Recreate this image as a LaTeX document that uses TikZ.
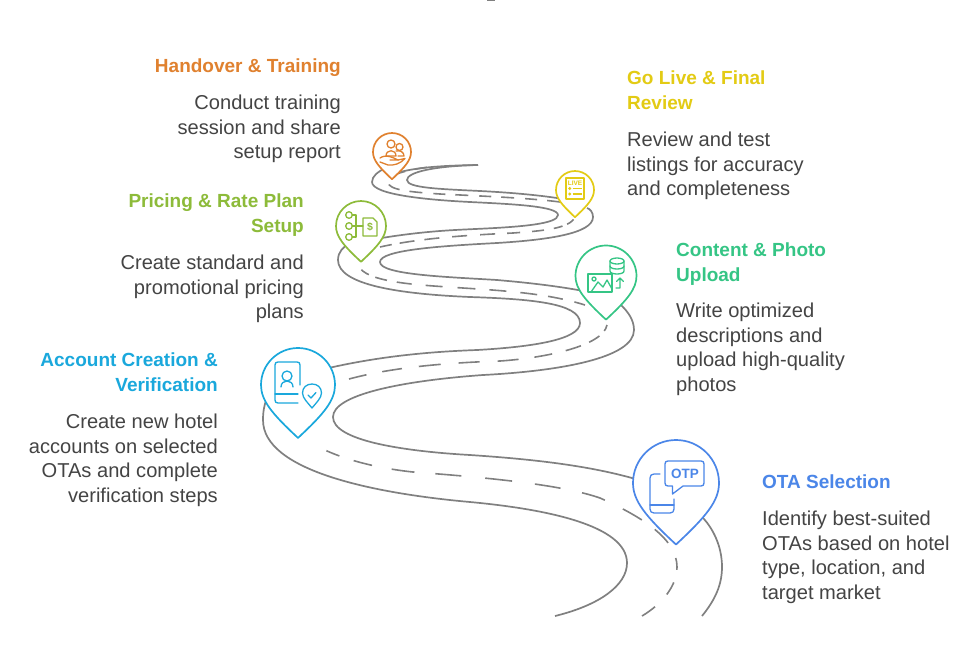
\documentclass[tikz,border=0pt]{standalone}
\usepackage{fontspec}
\setmainfont{Liberation Sans}
\definecolor{cOrange}{HTML}{E0812F}
\definecolor{cYellow}{HTML}{E3CB14}
\definecolor{cLime}{HTML}{8DBB3A}
\definecolor{cGreen}{HTML}{35C585}
\definecolor{cCyan}{HTML}{1AA8DC}
\definecolor{cBlue}{HTML}{4B86E8}
\definecolor{cRoad}{HTML}{808080}
\definecolor{cText}{HTML}{444444}
\newcommand\pinmark[4]{%
  \begin{scope}[shift={(#2,#3)},scale=#4]
    \draw[pinline,draw=#1,fill=white] (-1,0) .. controls (-1,-0.552) and (-0.552,-1) .. (0,-1)
      .. controls (0.552,-1) and (1,-0.552) .. (1,0)
      .. controls (1,0.42) and (0.7,0.78) .. (0,1.43)
      .. controls (-0.7,0.78) and (-1,0.42) .. (-1,0) -- cycle;
  \end{scope}}
\tikzset{
  pinline/.style={line width=1.7pt,line join=round},
  roadedge/.style={draw=cRoad,line width=1.7pt},
  roaddash/.style={draw=cRoad,line width=1.6pt},
  icon/.style={line width=1.3pt,line cap=round,line join=round},
  headR/.style={anchor=north east,align=right,inner sep=0pt,font=\fontsize{19}{24.5}\selectfont\bfseries},
  headL/.style={anchor=north west,align=left,inner sep=0pt,font=\fontsize{19}{24.5}\selectfont\bfseries},
  bodyR/.style={anchor=north east,align=right,inner sep=0pt,text=cText,font=\fontsize{20.1}{24.5}\selectfont},
  bodyL/.style={anchor=north west,align=left,inner sep=0pt,text=cText,font=\fontsize{20.1}{24.5}\selectfont},
}
\begin{document}
\begin{tikzpicture}[x=1pt,y=-1pt]
\useasboundingbox (0,0) rectangle (980,665);
\fill[white] (0,0) rectangle (980,665);
\draw[cRoad,line width=2pt] (487,0.4) -- (495,0.4);
% road edges
\draw[roadedge] (555,616) .. controls (600,605) and (627,585) .. (627,563)
  .. controls (627,525) and (545,509) .. (470,502)
  .. controls (370,493) and (263,470) .. (263,420)
  .. controls (263,412) and (264,405) .. (268,395);
\draw[roadedge] (320,370) .. controls (370,358) and (420,352) .. (477,350)
  .. controls (530,347) and (580,340) .. (580,323)
  .. controls (580,303) and (530,299) .. (470,297)
  .. controls (400,294) and (338,285) .. (338,260)
  .. controls (338,252) and (343,247) .. (350,243);
\draw[roadedge] (370,240) .. controls (420,231) and (455,230) .. (475,229)
  .. controls (520,227) and (558,224) .. (558,215)
  .. controls (558,206) and (510,204) .. (470,202)
  .. controls (430,200) and (372,195) .. (372,182)
  .. controls (372,176) and (378,172) .. (385,168);
\draw[roadedge] (400,172) .. controls (420,167) and (445,165.5) .. (478,165);
\draw[roadedge] (702,616) .. controls (715,600) and (722,585) .. (722,567)
  .. controls (722,545) and (712,528) .. (704,519) -- (690,505);
\draw[roadedge] (650,484) -- (632,478) .. controls (585,465) and (530,459) .. (470,455)
  .. controls (400,451) and (333,440) .. (333,417)
  .. controls (333,395) and (400,381) .. (483,375)
  .. controls (560,371) and (634,358) .. (634,330)
  .. controls (634,320) and (628,312) .. (622,306) -- (610,298);
\draw[roadedge] (590,292) -- (578,290) .. controls (550,285) and (520,282) .. (497,280)
  .. controls (450,277) and (380,275) .. (380,262)
  .. controls (380,250) and (440,246) .. (497,243)
  .. controls (545,240) and (593,234) .. (593,217)
  .. controls (593,212) and (590,209) .. (587,208);
\draw[roadedge] (570,202) -- (557,198) .. controls (530,194) and (500,192) .. (480,191)
  .. controls (440,189) and (407,188) .. (407,180)
  .. controls (407,172) and (435,166) .. (478,165);
% centre line
\draw[roaddash,dash pattern=on 16pt off 17pt on 14pt off 13pt on 12pt off 17pt on 19pt off 16pt on 22pt off 20pt on 24pt off 22pt on 26pt off 23pt on 27pt off 24pt on 26pt off 21pt on 23pt off 20pt on 19pt off 15pt on 14pt off 200pt] (642,616) .. controls (662,604) and (677,586) .. (677,567)
  .. controls (677,540) and (645,518) .. (600,498)
  .. controls (560,484) and (480,477) .. (413,472)
  .. controls (375,468) and (335,458) .. (308,441);
\draw[roaddash,dash pattern=on 18pt off 16pt on 20pt off 17pt on 22pt off 18pt on 21pt off 18pt on 21pt off 16pt on 18pt off 14pt on 16pt off 9pt on 12pt off 7pt on 8pt off 100pt] (349,379) .. controls (390,368) and (440,363) .. (500,361)
  .. controls (545,358) and (603,346) .. (607,325);
\draw[roaddash,dash pattern=on 11pt off 12pt on 15pt off 11pt on 17pt off 14pt on 17pt off 14pt on 18pt off 15pt on 17pt off 14pt on 15pt off 10pt on 12pt off 7pt on 9pt off 100pt] (585,305) .. controls (550,294) and (510,291) .. (463,288)
  .. controls (420,285) and (365,283) .. (358,265);
\draw[roaddash,dash pattern=on 12pt off 8pt on 15pt off 10pt on 15pt off 13pt on 15pt off 13pt on 15pt off 12pt on 13pt off 12pt on 12pt off 10pt on 9pt off 5pt on 8pt off 100pt] (380,247) .. controls (420,238) and (470,235) .. (513,233)
  .. controls (540,231) and (570,229) .. (575,217);
\draw[roaddash,dash pattern=on 13pt off 10pt on 12pt off 11pt] (560,202) .. controls (530,198) and (480,196) .. (440,194)
  .. controls (410,192) and (388,190) .. (388,182)
  .. controls (388,175) and (405,170) .. (430,167);
% pins
\pinmark{cOrange}{392}{152}{19}
\pinmark{cYellow}{575}{190}{19}
\pinmark{cLime}{361}{226}{25}
\pinmark{cGreen}{606}{276}{30.5}
\pinmark{cCyan}{298}{385}{37}
\pinmark{cBlue}{676}{483}{43}
% orange icon
\begin{scope}[icon,draw=cOrange]
\draw (391,144) circle (4);
\draw (399.5,147) circle (3.5);
\draw (386,156) .. controls (386,149) and (396,149) .. (396,156) -- (386,156);
\draw (396,151) .. controls (400,150) and (404,152) .. (404,156) -- (398,156);
\draw (380,158) .. controls (386,154) and (392,157) .. (398,160) -- (390,160);
\draw (398,160) -- (405,158.5) .. controls (400,164) and (394,165.5) .. (388,165) -- (380,162);
\end{scope}
% yellow icon
\begin{scope}[draw=cYellow]
\draw[line width=1.6pt,line join=round] (566,178) rectangle (584,199);
\node[inner sep=0pt,text=cYellow,font=\fontsize{6.5}{7}\selectfont\bfseries] (liveTag) at (575,183.5) {LIVE};
\draw[line width=1.5pt] (572.5,188.5) -- (582,188.5) (572.5,194) -- (582,194);
\fill[cYellow] (569.8,188.5) circle (1.6) (569.8,194) circle (1.6);
\end{scope}
% lime icon
\begin{scope}[icon,draw=cLime]
\draw (349,215) circle (3.3) (349,226) circle (3.3) (349,237) circle (3.3);
\draw (352.3,215) -- (356,215) -- (356,237) -- (352.3,237) (352.3,226) -- (363,226);
\draw (363,220) -- (363,236) -- (377,236) -- (377,222) -- (373,218) -- (363,218) -- cycle;
\node[inner sep=0pt,text=cLime,font=\fontsize{10.5}{11}\selectfont\bfseries] (dollarTag) at (370,227) {\$};
\end{scope}
% green icon
\begin{scope}[icon,draw=cGreen]
\draw (617,261) ellipse (7 and 3);
\draw (610,261) -- (610,271) .. controls (610,275) and (624,275) .. (624,271) -- (624,261);
\draw (610,266) .. controls (610,270) and (624,270) .. (624,266);
\draw (588,274) rectangle (612,292);
\draw (591,292) -- (598,282) -- (603,287) -- (607,280) -- (612,289);
\draw (594,279) circle (2);
\draw (616,288) -- (620,288) -- (620,278) (616.5,281.5) -- (620,278) -- (623.5,281.5);
\end{scope}
% cyan icon
\begin{scope}[icon,draw=cCyan]
\draw (300,385) -- (300,365) .. controls (300,363) and (299,362) .. (297,362) -- (278,362) .. controls (276,362) and (275,363) .. (275,365) -- (275,400) .. controls (275,402) and (276,403) .. (278,403) -- (298,403);
\draw (275,394) -- (298,394);
\draw (287,376) circle (5);
\draw (281,387) .. controls (281,379) and (293,379) .. (293,387);
\draw (302.5,393) .. controls (302.5,387.5) and (306.5,384) .. (312,384) .. controls (317.5,384) and (321.5,387.5) .. (321.5,393) .. controls (321.5,398) and (316,403) .. (312,408) .. controls (308,403) and (302.5,398) .. (302.5,393) -- cycle;
\draw (308,395) -- (311,398) -- (316,392.5);
\end{scope}
% blue icon
\begin{scope}[icon,draw=cBlue]
\draw (668,461) -- (701,461) .. controls (703,461) and (704,462) .. (704,464) -- (704,483) .. controls (704,485) and (703,486) .. (701,486) -- (683,486) -- (672.5,494) -- (672.5,486) -- (668,486) .. controls (666,486) and (665,485) .. (665,483) -- (665,464) .. controls (665,462) and (666,461) .. (668,461) -- cycle;
\node[inner sep=0pt,text=cBlue,font=\fontsize{13.5}{15}\selectfont\bfseries] (otpTag) at (685,474) {OTP};
\draw (660,474) -- (654,474) .. controls (651.5,474) and (650,475.5) .. (650,478) -- (650,509) .. controls (650,511.5) and (651.5,513) .. (654,513) -- (670,513) .. controls (672.5,513) and (674,511.5) .. (674,509) -- (674,499);
\draw (650,505) -- (674,505);
\end{scope}
% labels
\node[headR,text=cOrange] (h1) at (341,55.5) {\strut Handover \& Training};
\node[bodyR] (b1) at (341,92.5) {\strut Conduct training\\session and share\\setup report};
\node[headL,text=cYellow] (h2) at (627,67.5) {\strut Go Live \& Final\\Review};
\node[bodyL] (b2) at (627,129.5) {\strut Review and test\\listings for accuracy\\and completeness};
\node[headR,text=cLime] (h3) at (304,190.5) {\strut Pricing \& Rate Plan\\Setup};
\node[bodyR] (b3) at (304,252.5) {\strut Create standard and\\promotional pricing\\plans};
\node[headL,text=cGreen] (h4) at (676,239.5) {\strut Content \& Photo\\Upload};
\node[bodyL] (b4) at (676,300.5) {\strut Write optimized\\descriptions and\\upload high-quality\\photos};
\node[headR,text=cCyan] (h5) at (218,349.5) {\strut Account Creation \&\\Verification};
\node[bodyR] (b5) at (218,411.5) {\strut Create new hotel\\accounts on selected\\OTAs and complete\\verification steps};
\node[headL,text=cBlue] (h6) at (762,471.5) {\strut OTA Selection};
\node[bodyL] (b6) at (762,508.5) {\strut Identify best-suited\\OTAs based on hotel\\type, location, and\\target market};
\end{tikzpicture}
\end{document}
